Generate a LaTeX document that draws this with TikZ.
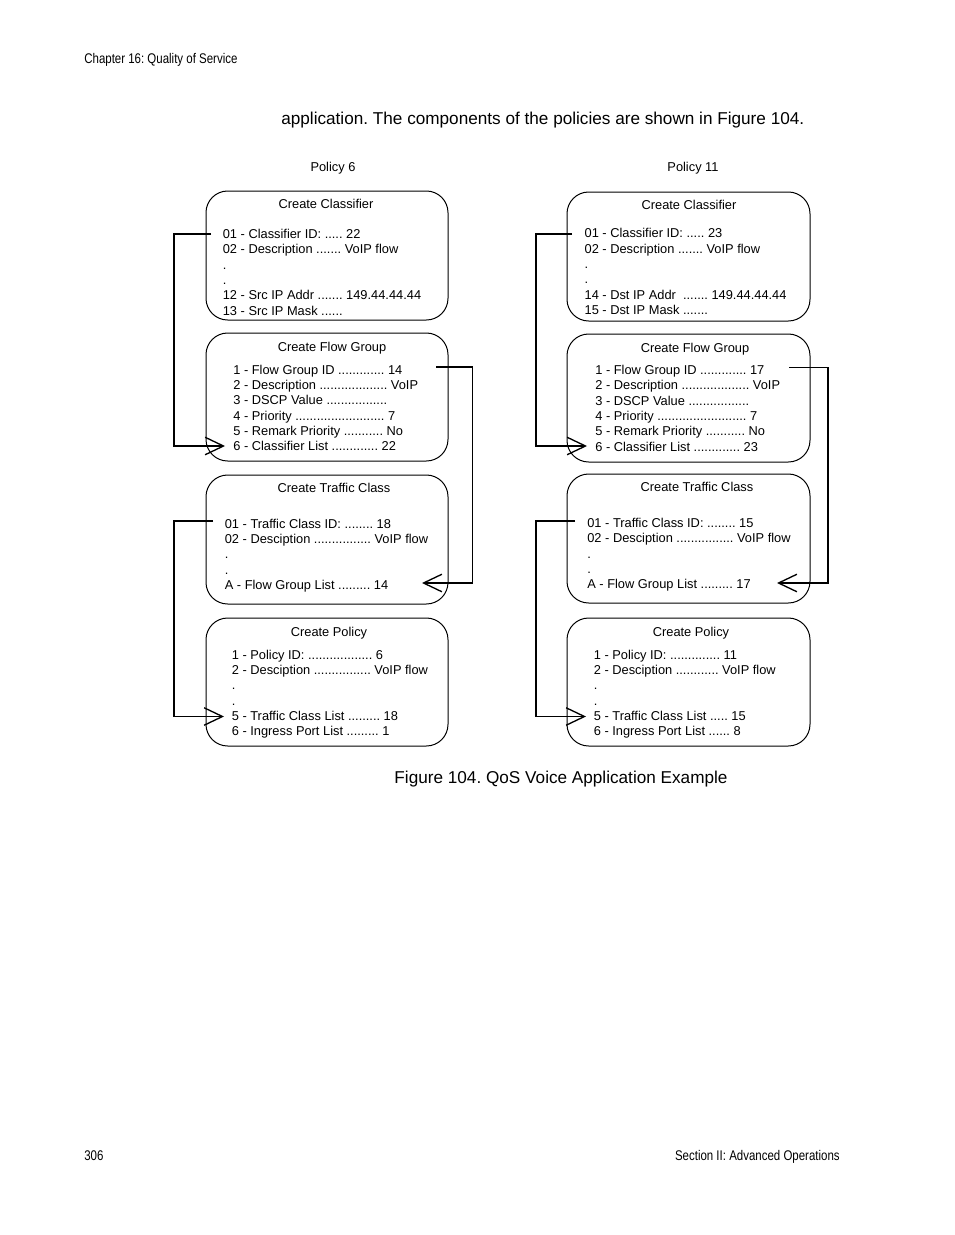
\documentclass[tikz,border=0pt]{standalone}
\usepackage{fontspec}
\setmainfont{Liberation Sans}
\newfontfamily\narrowfont[FakeStretch=0.82]{Liberation Sans}
\usetikzlibrary{arrows.meta,fit}
\frenchspacing
% \bline{name}{x}{first baseline y}{line number}{text}
\newcommand\bline[5]{\node[txt] (#1-#4) at (#2,{#3+(#4-1)*15.35}) {#5};}
\begin{document}
\begin{tikzpicture}[x=0.6pt,y=-0.6pt,
  box/.style={draw, line width=0.6pt, rounded corners=13pt, inner sep=0pt},
  txt/.style={inner sep=0pt, anchor=base west, font=\fontsize{7.7}{9}\selectfont},
  ttl/.style={inner sep=0pt, anchor=base, font=\fontsize{7.7}{9}\selectfont},
  body/.style={inner sep=0pt, font=\fontsize{10.3}{12}\selectfont},
  pagehead/.style={inner sep=0pt, font=\fontsize{8.4}{10}\narrowfont},
  conn/.style={line width=0.8pt, -{Straight Barb[length=11pt,width=10.5pt,line width=0.8pt]}}]
\useasboundingbox[fill=white] (0,0) rectangle (954,1235);

% page furniture
\node[pagehead, anchor=base west] (hdr) at (84,63) {Chapter 16: Quality of Service};
\node[pagehead, anchor=base west] (pg) at (84,1160) {306};
\node[pagehead, anchor=base east] (sec) at (840,1160) {Section II: Advanced Operations};
\node[body, anchor=base west] (intro) at (281,124) {application. The components of the policies are shown in Figure 104.};
\node[body, anchor=base] (cap) at (561,783) {Figure 104. QoS Voice Application Example};

% column headings
\node[ttl] (p6) at (333,171) {Policy 6};
\node[ttl] (p11) at (693,171) {Policy 11};

% ---------------- Policy 6 boxes ----------------
\node[box, fit={(206,191) (448,320)}] (cls6) {};
\node[box, fit={(206,333) (448,461)}] (fg6) {};
\node[box, fit={(206,475) (448,604)}] (tc6) {};
\node[box, fit={(206,618) (448,746)}] (pol6) {};

\node[ttl] (cls6t) at (326,208.5) {Create Classifier};
\node[ttl] (fg6t) at (332,351) {Create Flow Group};
\node[ttl] (tc6t) at (334,492) {Create Traffic Class};
\node[ttl] (pol6t) at (329,636) {Create Policy};

\bline{c6}{222.5}{238.3}{1}{01 - Classifier ID: ..... 22}
\bline{c6}{222.5}{238.3}{2}{02 - Description ....... VoIP flow}
\bline{c6}{222.5}{238.3}{3}{.}
\bline{c6}{222.5}{238.3}{4}{.}
\bline{c6}{222.5}{238.3}{5}{12 - Src IP Addr ....... 149.44.44.44}
\bline{c6}{222.5}{238.3}{6}{13 - Src IP Mask ......}

\bline{f6}{233}{374}{1}{1 - Flow Group ID ............. 14}
\bline{f6}{233}{374}{2}{2 - Description ................... VoIP}
\bline{f6}{233}{374}{3}{3 - DSCP Value .................}
\bline{f6}{233}{374}{4}{4 - Priority ......................... 7}
\bline{f6}{233}{374}{5}{5 - Remark Priority ........... No}
\bline{f6}{233}{374}{6}{6 - Classifier List ............. 22}

\bline{t6}{224.5}{528}{1}{01 - Traffic Class ID: ........ 18}
\bline{t6}{224.5}{528}{2}{02 - Desciption ................ VoIP flow}
\bline{t6}{224.5}{528}{3}{.}
\bline{t6}{224.5}{528}{4}{.}
\bline{t6}{224.5}{528}{5}{A - Flow Group List ......... 14}

\bline{q6}{231.5}{659}{1}{1 - Policy ID: .................. 6}
\bline{q6}{231.5}{659}{2}{2 - Desciption ................ VoIP flow}
\bline{q6}{231.5}{659}{3}{.}
\bline{q6}{231.5}{659}{4}{.}
\bline{q6}{231.5}{659}{5}{5 - Traffic Class List ......... 18}
\bline{q6}{231.5}{659}{6}{6 - Ingress Port List ......... 1}

% ---------------- Policy 11 boxes ----------------
\node[box, fit={(567,192) (810,321)}] (cls11) {};
\node[box, fit={(567,334) (810,462)}] (fg11) {};
\node[box, fit={(567,474) (810,603)}] (tc11) {};
\node[box, fit={(567,618) (810,746)}] (pol11) {};

\node[ttl] (cls11t) at (689,209) {Create Classifier};
\node[ttl] (fg11t) at (695,352) {Create Flow Group};
\node[ttl] (tc11t) at (697,491) {Create Traffic Class};
\node[ttl] (pol11t) at (691,636) {Create Policy};

\bline{c11}{584.3}{237.7}{1}{01 - Classifier ID: ..... 23}
\bline{c11}{584.3}{237.7}{2}{02 - Description ....... VoIP flow}
\bline{c11}{584.3}{237.7}{3}{.}
\bline{c11}{584.3}{237.7}{4}{.}
\bline{c11}{584.3}{237.7}{5}{14 - Dst IP Addr\ \ ....... 149.44.44.44}
\bline{c11}{584.3}{237.7}{6}{15 - Dst IP Mask .......}

\bline{f11}{595}{374.5}{1}{1 - Flow Group ID ............. 17}
\bline{f11}{595}{374.5}{2}{2 - Description ................... VoIP}
\bline{f11}{595}{374.5}{3}{3 - DSCP Value .................}
\bline{f11}{595}{374.5}{4}{4 - Priority ......................... 7}
\bline{f11}{595}{374.5}{5}{5 - Remark Priority ........... No}
\bline{f11}{595}{374.5}{6}{6 - Classifier List ............. 23}

\bline{t11}{587}{527.5}{1}{01 - Traffic Class ID: ........ 15}
\bline{t11}{587}{527.5}{2}{02 - Desciption ................ VoIP flow}
\bline{t11}{587}{527.5}{3}{.}
\bline{t11}{587}{527.5}{4}{.}
\bline{t11}{587}{527.5}{5}{A - Flow Group List ......... 17}

\bline{q11}{593.5}{659}{1}{1 - Policy ID: .............. 11}
\bline{q11}{593.5}{659}{2}{2 - Desciption ............ VoIP flow}
\bline{q11}{593.5}{659}{3}{.}
\bline{q11}{593.5}{659}{4}{.}
\bline{q11}{593.5}{659}{5}{5 - Traffic Class List ..... 15}
\bline{q11}{593.5}{659}{6}{6 - Ingress Port List ...... 8}

% ---------------- connectors ----------------
\coordinate (a6s) at (211,234);   \coordinate (a6e) at (225,446);
\coordinate (b6s) at (436,367);   \coordinate (b6e) at (422,583);
\coordinate (c6s) at (213,521);   \coordinate (c6e) at (224,716.5);
\draw[conn] (a6s) -- ++(-37,0) |- (a6e);
\draw[conn] (b6s) -- ++(36.5,0) |- (b6e);
\draw[conn] (c6s) -- ++(-39,0) |- (c6e);

\coordinate (a11s) at (572,234);  \coordinate (a11e) at (587,446);
\coordinate (b11s) at (789,367.5);\coordinate (b11e) at (777,583);
\coordinate (c11s) at (575,521);  \coordinate (c11e) at (586,716.5);
\draw[conn] (a11s) -- ++(-36,0) |- (a11e);
\draw[conn] (b11s) -- ++(39,0) |- (b11e);
\draw[conn] (c11s) -- ++(-39,0) |- (c11e);
\end{tikzpicture}
\end{document}
